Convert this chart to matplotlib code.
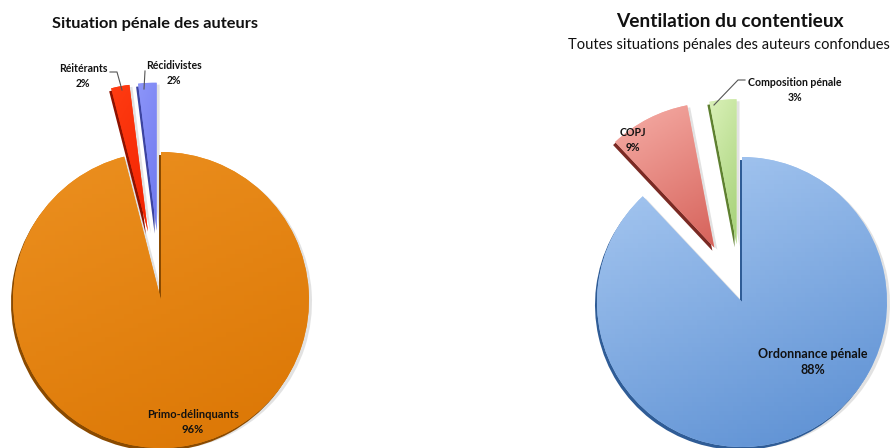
import matplotlib.pyplot as plt
import numpy as np
from matplotlib.colors import LinearSegmentedColormap

W, H = 890, 448

# left chart : situation pénale des auteurs
auteurs_labels = ["Primo-délinquants", "Réitérants", "Récidivistes"]
auteurs_values = [96, 2, 2]
auteurs_explode = [0.0, 0.47, 0.47]  # fraction of radius
auteurs_grads = [("#EC9020", "#DB7604"), ("#FF3C12", "#F22200"), ("#8C95F9", "#6D77EE")]
auteurs_depth = ["#8A4A00", "#8E1200", "#3C44A0"]

# right chart : ventilation du contentieux
contentieux_labels = ["Ordonnance pénale", "COPJ", "Composition pénale"]
contentieux_values = [88, 9, 3]
contentieux_explode = [0.0, 0.42, 0.40]
contentieux_grads = [("#AACAF2", "#5A8ED2"), ("#F6AEA7", "#D6625A"), ("#DAF1B8", "#A4D076")]
contentieux_depth = ["#2F5C96", "#7A2A24", "#5E8030"]

FONT = ["Lato", "DejaVu Sans"]


def iy(y):
    # image row -> data y
    return H - y


def draw_pie(ax, values, explode, center, radius, grads, depth):
    # matplotlib's explode is in data units, so scale it by the radius
    kw = dict(explode=[e * radius for e in explode], startangle=90,
              counterclock=False, radius=radius, frame=True)
    n = len(values)
    ax.pie(values, center=(center[0] + 3, center[1] - 2), colors=["#D0D0D0"] * n,
           wedgeprops=dict(linewidth=0, alpha=0.6), **kw)
    ax.pie(values, center=(center[0] - 2, center[1] - 3), colors=depth,
           wedgeprops=dict(linewidth=0), **kw)
    wedges, _ = ax.pie(values, center=center, colors=[g[0] for g in grads],
                       wedgeprops=dict(linewidth=0), **kw)
    for w, (c1, c2) in zip(wedges, grads):
        cmap = LinearSegmentedColormap.from_list("g", [c1, c2])
        ext = w.get_path().get_extents()
        u, v = np.meshgrid(np.linspace(0, 1, 64), np.linspace(0, 1, 64))
        t = 0.3 * u + 0.7 * (1 - v)
        im = ax.imshow(t, extent=(ext.x0, ext.x1, ext.y0, ext.y1), origin="lower",
                       cmap=cmap, vmin=0, vmax=1, aspect="auto",
                       zorder=w.get_zorder() + 0.1)
        im.set_clip_path(w)
    return wedges


fig = plt.figure(figsize=(W / 100, H / 100), dpi=100)
ax = fig.add_axes([0, 0, 1, 1])

draw_pie(ax, auteurs_values, auteurs_explode, (161, iy(300)), 148,
         auteurs_grads, auteurs_depth)
draw_pie(ax, contentieux_values, contentieux_explode, (742, iy(302)), 145,
         contentieux_grads, contentieux_depth)

ax.set_aspect("equal")
ax.set_xlim(0, W)
ax.set_ylim(0, H)
ax.axis("off")

# titles
ax.text(155, iy(24), "Situation pénale des auteurs", ha="center", va="center",
        fontsize=11.8, fontweight="bold", family=FONT, color="#111111")
ax.text(730, iy(21), "Ventilation du contentieux", ha="center", va="center",
        fontsize=13.8, fontweight="bold", family=FONT, color="#111111")
ax.text(729, iy(45), "Toutes situations pénales des auteurs confondues", ha="center",
        va="center", fontsize=10.5, family=FONT, color="#111111")

# data labels
label_pos_left = [(193, 422, 8), (83, 76, 7.6), (174, 73, 7.6)]
for name, val, (x, y, fs) in zip(auteurs_labels, auteurs_values, label_pos_left):
    ax.text(x, iy(y), f"{name}\n{val}%", ha="center", va="center", fontsize=fs,
            fontweight="bold", family=FONT, color="#111111", linespacing=1.35, zorder=10)

label_pos_right = [(813, 362, 9), (633, 140, 7.6), (795, 90, 7.6)]
for name, val, (x, y, fs) in zip(contentieux_labels, contentieux_values, label_pos_right):
    ax.text(x, iy(y), f"{name}\n{val}%", ha="center", va="center", fontsize=fs,
            fontweight="bold", family=FONT, color="#111111", linespacing=1.35, zorder=10)

# leader lines
ax.plot([110, 117, 122], [iy(72), iy(72), iy(90)], color="#555555", lw=0.8, zorder=10)
ax.plot([145, 144], [iy(71), iy(89)], color="#555555", lw=0.8, zorder=10)
ax.plot([745, 738, 714], [iy(80), iy(80), iy(105)], color="#555555", lw=0.8, zorder=10)

fig.savefig("out.png", dpi=100)
